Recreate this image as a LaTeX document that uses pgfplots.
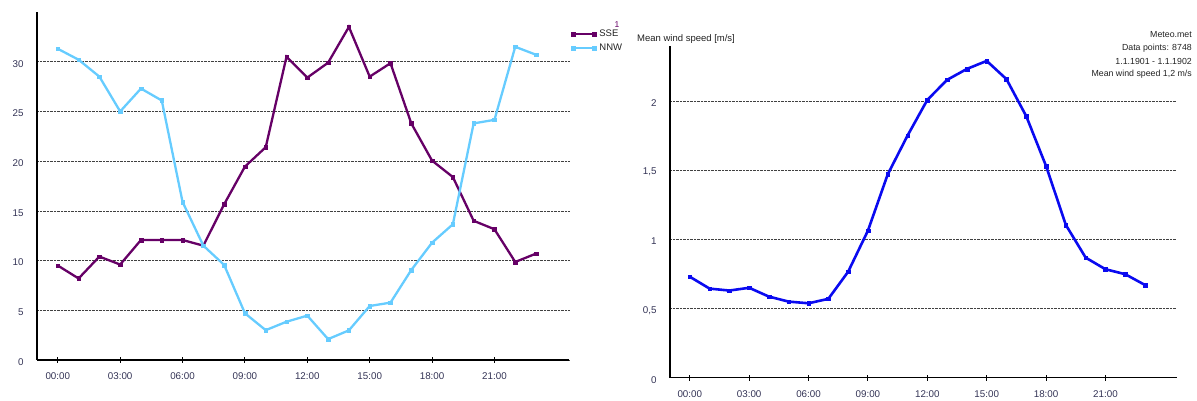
\documentclass[border=0pt]{standalone}
\usepackage{fontspec}
\setmainfont{Liberation Sans}
\usepackage{pgfplots}
\pgfplotsset{compat=1.18}
\definecolor{sse}{HTML}{660066}
\definecolor{nnw}{HTML}{66CCFF}
\definecolor{wind}{HTML}{0A0AF0}
\definecolor{tl}{HTML}{333355}
\definecolor{tx}{HTML}{222222}
\begin{document}
\begin{tikzpicture}
\path[use as bounding box] (0pt,0pt) rectangle (1197pt,401pt);
\pgfplotsset{
  common/.style={
    scale only axis,
    anchor=south west,
    xmin=-1, xmax=24.6,
    ymin=0,
    axis x line=bottom, axis y line=left,
    axis line style={-, line width=1.6pt, black},
    xtick={0,3,...,21},
    xticklabels={00:00,03:00,06:00,09:00,12:00,15:00,18:00,21:00},
    major tick length=6pt,
    xtick align=center,
    x tick style={black, line width=0.9pt},
    y tick style={draw=none},
    ymajorgrids,
    grid style={densely dotted, black!75, line width=0.6pt},
    tick label style={font=\fontsize{9.8}{11}\selectfont, text=tl},
    xticklabel style={yshift=-6pt},
    yticklabel style={xshift=-7pt, yshift=-2pt},
    clip=false,
  }
}
\begin{axis}[common,
  at={(37pt,41pt)}, width=532.3pt, height=348pt,
  ymax=35,
  ytick={0,5,10,15,20,25,30},
  yticklabels={0,5,10,15,20,25,30},
  legend style={at={(1,1)}, anchor=north west, draw=none, fill=none,
    inner sep=0pt, outer sep=0pt, xshift=2pt, yshift=-16pt, row sep=2pt,
    column sep=2pt,
    font=\fontsize{9.5}{11}\selectfont, text=tx,
    nodes={inner sep=1.5pt, text height=7pt, text depth=2pt}},
  legend cell align=left,
  legend image code/.code={\draw[#1] plot coordinates {(0pt,0pt) (21pt,0pt)};},
]
\addplot[sse, line width=2.3pt, mark=square*, mark size=1.8pt, mark options={line width=0.4pt}] coordinates {
(0,9.5) (1,8.2) (2,10.4) (3,9.6) (4,12.07) (5,12.07) (6,12.07) (7,11.5)
(8,15.66) (9,19.45) (10,21.4) (11,30.5) (12,28.4) (13,29.9) (14,33.5) (15,28.5)
(16,29.85) (17,23.8) (18,20.05) (19,18.4) (20,14.0) (21,13.15) (22,9.86) (23,10.7)};
\addlegendentry{SSE}
\addplot[nnw, line width=2.3pt, mark=square*, mark size=1.8pt, mark options={line width=0.4pt}] coordinates {
(0,31.3) (1,30.2) (2,28.5) (3,25.0) (4,27.3) (5,26.1) (6,15.9) (7,11.5)
(8,9.56) (9,4.7) (10,3.0) (11,3.85) (12,4.46) (13,2.1) (14,2.98) (15,5.43)
(16,5.77) (17,9.05) (18,11.8) (19,13.65) (20,23.8) (21,24.15) (22,31.5) (23,30.7)};
\addlegendentry{NNW}
\end{axis}
\node[text=sse, font=\fontsize{8.5}{10}\selectfont, inner sep=0pt] at (617pt,376pt) {1};
\begin{axis}[common,
  at={(670pt,23.3pt)}, width=506.7pt, height=332pt,
  ymax=2.4,
  ytick={0,0.5,1,1.5,2},
  yticklabels={0,{0,5},1,{1,5},2},
]
\addplot[wind, line width=2.6pt, mark=square*, mark size=1.8pt, mark options={line width=0.4pt}] coordinates {
(0,0.73) (1,0.644) (2,0.63) (3,0.65) (4,0.586) (5,0.55) (6,0.538) (7,0.57)
(8,0.766) (9,1.063) (10,1.47) (11,1.75) (12,2.008) (13,2.153) (14,2.232) (15,2.29)
(16,2.158) (17,1.89) (18,1.53) (19,1.104) (20,0.868) (21,0.784) (22,0.748) (23,0.67)};
\end{axis}
\node[anchor=west, inner sep=0pt, text=tx, font=\fontsize{9.5}{11}\selectfont] at (637pt,362pt) {Mean wind speed [m/s]};
\begin{scope}[every node/.style={anchor=east, inner sep=0pt, text=tx, font=\fontsize{8.8}{10}\selectfont}]
\node at (1192pt,366pt) {Meteo.met};
\node at (1192pt,353pt) {Data points: 8748};
\node at (1192pt,340pt) {1.1.1901 - 1.1.1902};
\node at (1192pt,327pt) {Mean wind speed 1,2 m/s};
\end{scope}
\end{tikzpicture}
\end{document}
